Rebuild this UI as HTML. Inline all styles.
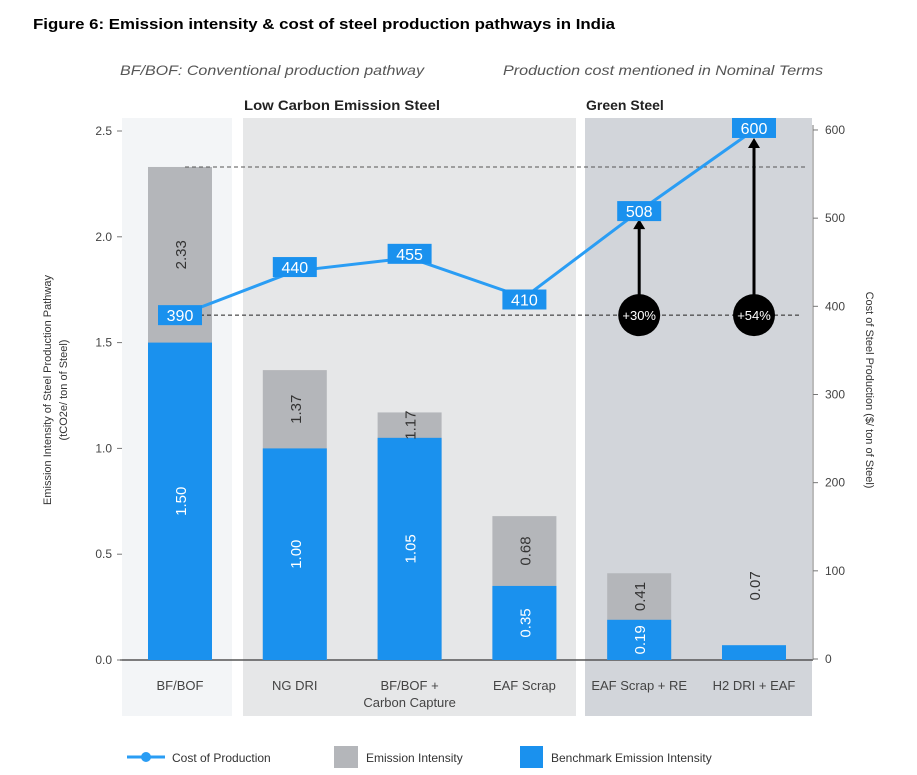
<!DOCTYPE html>
<html><head><meta charset="utf-8"><style>
body{margin:0;background:#fff;}
svg{display:block;font-family:"Liberation Sans",sans-serif;}
</style></head><body>
<svg id="chart" width="917" height="775" viewBox="0 0 917 775">
<text x="33" y="29" font-size="15" font-weight="bold" fill="#000" textLength="582" lengthAdjust="spacingAndGlyphs">Figure 6: Emission intensity &amp; cost of steel production pathways in India</text>
<text x="120" y="75" font-size="14" font-style="italic" fill="#555" textLength="304" lengthAdjust="spacingAndGlyphs">BF/BOF: Conventional production pathway</text>
<text x="503" y="75" font-size="14" font-style="italic" fill="#555" textLength="320" lengthAdjust="spacingAndGlyphs">Production cost mentioned in Nominal Terms</text>
<rect x="122" y="118" width="110" height="598" fill="#f3f5f7"/>
<rect x="243" y="118" width="333" height="598" fill="#e6e7e8"/>
<rect x="585" y="118" width="227" height="598" fill="#d2d5da"/>
<text x="244" y="110" font-size="14" font-weight="bold" fill="#222" textLength="196" lengthAdjust="spacingAndGlyphs">Low Carbon Emission Steel</text>
<text x="586" y="110" font-size="14" font-weight="bold" fill="#222">Green Steel</text>
<g id="axes"></g>
<g id="bars"></g>
<g id="line"></g>
<g id="legend">
<line x1="127" y1="757" x2="165" y2="757" stroke="#2a9df4" stroke-width="3"/>
<circle cx="146" cy="757" r="5" fill="#2a9df4"/>
<text x="172" y="762" font-size="12" fill="#333">Cost of Production</text>
<rect x="334" y="746" width="24" height="22" fill="#b4b6ba"/>
<text x="366" y="762" font-size="12" fill="#333">Emission Intensity</text>
<rect x="520" y="746" width="23" height="22" fill="#1a91ee"/>
<text x="551" y="762" font-size="12" fill="#333">Benchmark Emission Intensity</text>
</g>
</svg>
<script>
const categories=["BF/BOF","NG DRI","BF/BOF +|Carbon Capture","EAF Scrap","EAF Scrap + RE","H2 DRI + EAF"];
const emissionTotal=[2.33,1.37,1.17,0.68,0.41,null];
const benchmark=[1.50,1.00,1.05,0.35,0.19,0.07];
const cost=[390,440,455,410,508,600];
const leftTicks=[0,0.5,1.0,1.5,2.0,2.5];
const rightTicks=[0,100,200,300,400,500,600];
const NS="http://www.w3.org/2000/svg";
const x0=180,step=114.8,bw=64;
const xc=i=>x0+i*step;
const yL=v=>660-v*211.6;
const yR=v=>659-v*0.8817;
function mk(tag,attrs,parent,txt){const e=document.createElementNS(NS,tag);for(const k in attrs)e.setAttribute(k,attrs[k]);if(txt!==undefined)e.textContent=txt;parent.appendChild(e);return e;}
const ax=document.getElementById('axes'),bars=document.getElementById('bars'),ln=document.getElementById('line');
let e=mk('line',{x1:120,y1:660,x2:813,y2:660,stroke:'#555','stroke-width':1.5},ax);


e=mk('line',{x1:813,y1:125,x2:813,y2:660,stroke:'#777','stroke-width':1},ax);


leftTicks.forEach(t=>{
 const y=yL(t);
 e=mk('line',{x1:117,y1:y,x2:122,y2:y,stroke:'#777'},ax);
 
 
 e=mk('text',{x:112,y:y+4,'font-size':12,fill:'#444','text-anchor':'end'},ax,t.toFixed(1));
 
 
});
rightTicks.forEach(t=>{
 const y=yR(t);
 e=mk('line',{x1:813,y1:y,x2:818,y2:y,stroke:'#777'},ax);
 
 
 e=mk('text',{x:825,y:y+4,'font-size':12,fill:'#444'},ax,String(t));
 
 
});
e=mk('text',{transform:'translate(51,390) rotate(-90)','font-size':11,fill:'#333','text-anchor':'middle'},ax,'Emission Intensity of Steel Production Pathway');


e=mk('text',{transform:'translate(67,390) rotate(-90)','font-size':11,fill:'#333','text-anchor':'middle'},ax,'(tCO2e/ ton of Steel)');


e=mk('text',{transform:'translate(866,390) rotate(90)','font-size':11,fill:'#333','text-anchor':'middle'},ax,'Cost of Steel Production ($/ ton of Steel)');


categories.forEach((c,i)=>{
 const x=xc(i);
 const parts=c.split('|');
 parts.forEach((p,j)=>{
  e=mk('text',{x:x,y:690+j*17,'font-size':13,fill:'#444','text-anchor':'middle'},ax,p);
  
  
 });
 if(emissionTotal[i]!=null){
  e=mk('rect',{x:x-bw/2,y:yL(emissionTotal[i]),width:bw,height:yL(0)-yL(emissionTotal[i]),fill:'#b4b6ba'},bars);
  
  
 }
 e=mk('rect',{x:x-bw/2,y:yL(benchmark[i]),width:bw,height:yL(0)-yL(benchmark[i]),fill:'#1a91ee'},bars);
 
 
 if(emissionTotal[i]!=null){
  const ym=(yL(emissionTotal[i])+yL(benchmark[i]))/2;
  e=mk('text',{transform:`translate(${x+6},${ym}) rotate(-90)`,'font-size':15,fill:'#333','text-anchor':'middle'},bars,emissionTotal[i].toFixed(2));
  
  
 }
 const isH2=emissionTotal[i]==null;
 const yb=isH2?yL(0.35):(yL(benchmark[i])+yL(0))/2;
 e=mk('text',{transform:`translate(${x+6},${yb}) rotate(-90)`,'font-size':15,fill:isH2?'#333':'#fff','text-anchor':'middle'},bars,benchmark[i].toFixed(2));
 
 
});
e=mk('line',{x1:185,y1:yL(emissionTotal[0]),x2:808,y2:yL(emissionTotal[0]),stroke:'#555','stroke-dasharray':'4,3'},ln);


e=mk('line',{x1:200,y1:yR(cost[0]),x2:800,y2:yR(cost[0]),stroke:'#222','stroke-dasharray':'4,3'},ln);


e=mk('polyline',{points:cost.map((v,i)=>xc(i)+','+yR(v)).join(' '),fill:'none',stroke:'#2a9df4','stroke-width':3},ln);


[4,5].forEach(i=>{
 const x=xc(i),yb=yR(cost[0]),yt=yR(cost[i])+8;
 e=mk('line',{x1:x,y1:yb,x2:x,y2:yt+8,stroke:'#000','stroke-width':3},ln);
 
 
 e=mk('polygon',{points:`${x-6},${yt+10} ${x+6},${yt+10} ${x},${yt}`,fill:'#000'},ln);
 
 
 e=mk('circle',{cx:x,cy:yb,r:21,fill:'#000'},ln);
 
 
 const pct=Math.round((cost[i]/cost[0]-1)*100);
 e=mk('text',{x:x,y:yb+5,'font-size':13,fill:'#fff','text-anchor':'middle'},ln,'+'+pct+'%');
 
 
});
cost.forEach((v,i)=>{
 const x=xc(i),y=yR(v);
 let lx=x,ly=y;
 if(i===1||i===2)ly=y-4;
 if(i===3)ly=y+2;
 if(i===5)ly=y-2;
 e=mk('rect',{x:lx-22,y:ly-10,width:44,height:20,fill:'#1a91ee'},ln);
 
 
 e=mk('text',{x:lx,y:ly+6,'font-size':16,fill:'#fff','text-anchor':'middle'},ln,String(v));
 
 
});
</script>
</body></html>
